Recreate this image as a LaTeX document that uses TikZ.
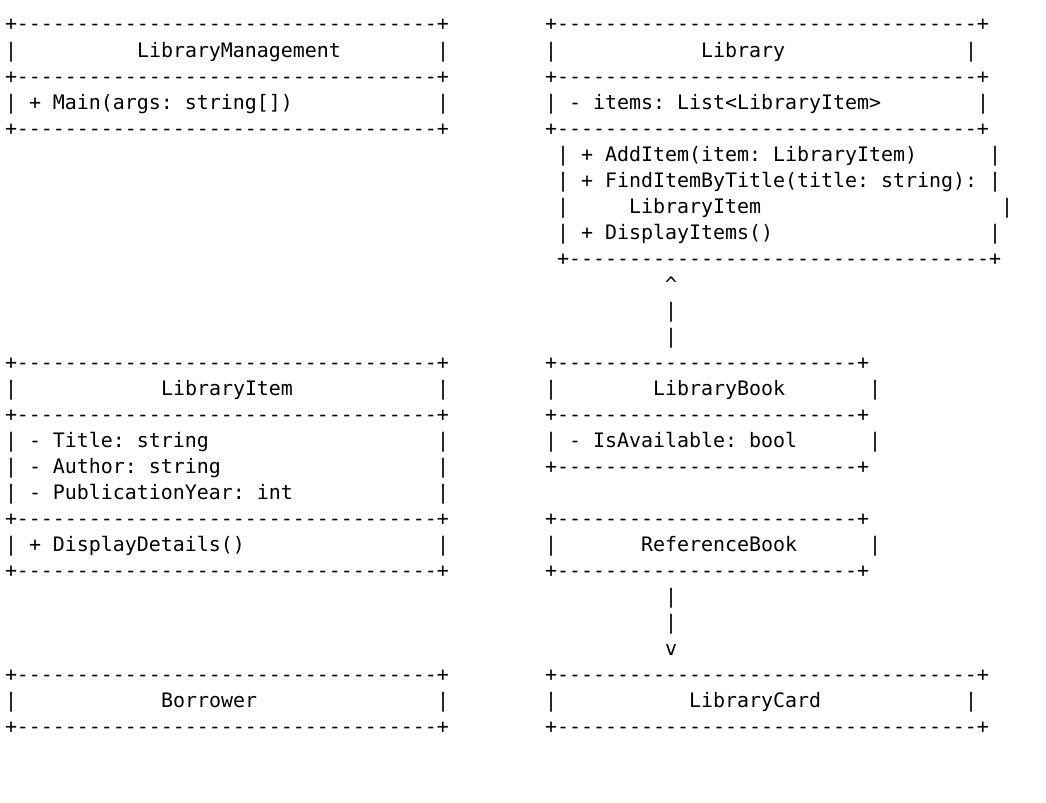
\documentclass[tikz,border=0pt]{standalone}
\usepackage{fontspec}
\setmonofont{DejaVu Sans Mono}
\newcommand\dashline[1]{+\foreach\i in {1,...,#1}{-}+}

\begin{document}
\begin{tikzpicture}[x=0.75pt, y=-0.75pt] %ASCII class diagram
	\tikzstyle{asc} = [anchor=base west, inner sep=0pt, outer sep=0pt, font=\ttfamily\fontsize{14.95pt}{19.5pt}\selectfont]
	\useasboundingbox (0,0) rectangle (1046,803);
	% left column
	\foreach \k/\c/\t in {0/0/\dashline{35}, 1/11/LibraryManagement, 2/0/\dashline{35}, 3/2/+ Main(args: string[]), 4/0/\dashline{35},
		13/0/\dashline{35}, 14/13/LibraryItem, 15/0/\dashline{35}, 16/2/- Title: string, 17/2/- Author: string, 18/2/- PublicationYear: int,
		19/0/\dashline{35}, 20/2/+ DisplayDetails(), 21/0/\dashline{35}, 25/0/\dashline{35}, 26/13/Borrower, 27/0/\dashline{35}}
	{
		\node[asc] (left-\k-\c) at ({5+12*\c},{31+26*\k}) {\t};
	}
	\foreach \k in {1,3,14,16,17,18,20,26}
	{
		\node[asc] (left-\k-bar) at (5,{31+26*\k}) {|};
		\node[asc] (left-\k-end) at ({5+12*36},{31+26*\k}) {|};
	}
	% right column
	\foreach \k/\c/\t in {0/0/\dashline{35}, 1/13/Library, 2/0/\dashline{35}, 3/2/- items: List<LibraryItem>, 4/0/\dashline{35},
		5/3/+ AddItem(item: LibraryItem), 6/3/+ FindItemByTitle(title: string):, 7/7/LibraryItem, 8/3/+ DisplayItems(), 9/1/\dashline{35},
		10/10/\textasciicircum, 13/0/\dashline{25}, 14/9/LibraryBook, 15/0/\dashline{25}, 16/2/- IsAvailable: bool, 17/0/\dashline{25},
		19/0/\dashline{25}, 20/8/ReferenceBook, 21/0/\dashline{25}, 24/10/v, 25/0/\dashline{35}, 26/12/LibraryCard, 27/0/\dashline{35}}
	{
		\node[asc] (right-\k-\c) at ({545+12*\c},{31+26*\k}) {\t};
	}
	\foreach \k/\c in {1/0, 1/35, 3/0, 3/36, 5/1, 5/37, 6/1, 6/37, 7/1, 7/38, 8/1, 8/37, 11/10, 12/10,
		14/0, 14/27, 16/0, 16/27, 20/0, 20/27, 22/10, 23/10, 26/0, 26/35}
	{
		\node[asc] (right-\k-\c) at ({545+12*\c},{31+26*\k}) {|};
	}
\end{tikzpicture}
\end{document}
